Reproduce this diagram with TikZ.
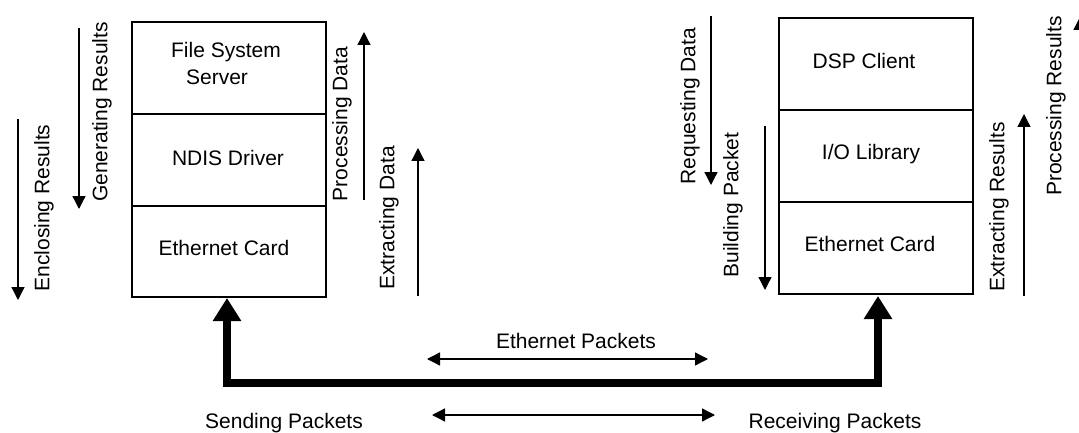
\documentclass[tikz,border=0pt]{standalone}
\usepackage{fontspec}
\setmainfont{Liberation Sans}
\usetikzlibrary{arrows.meta}
\begin{document}
\begin{tikzpicture}[x=1pt,y=-1pt,
  layer/.style={draw,line width=1.5pt},
  lbl/.style={inner sep=0pt,font=\fontsize{21}{25}\selectfont},
  vlbl/.style={lbl,rotate=90},
  flow/.style={line width=1.3pt,-{Triangle[width=13pt,length=13pt]}},
  both/.style={line width=1.3pt,{Triangle[width=13pt,length=13pt]}-{Triangle[width=13pt,length=13pt]}},
  link/.style={line width=7.5pt,{Triangle[width=27pt,length=23pt]}-{Triangle[width=27pt,length=23pt]}}]
\useasboundingbox (0,0) rectangle (1079,433);
% left stack
\draw[layer] (132,22) rectangle (326,114);
\draw[layer] (132,114) rectangle (326,206);
\draw[layer] (132,206) rectangle (326,297);
\node[lbl,anchor=base] (fs1) at (226,58) {File System};
\node[lbl,anchor=base] (fs2) at (217,85) {Server};
\node[lbl,anchor=base] (ndis) at (228,165) {NDIS Driver};
\node[lbl,anchor=base] (ethL) at (224,255) {Ethernet Card};
% right stack
\draw[layer] (779,18) rectangle (973,110);
\draw[layer] (779,110) rectangle (973,202);
\draw[layer] (779,202) rectangle (973,294);
\node[lbl,anchor=base] (dsp) at (864,69) {DSP Client};
\node[lbl,anchor=base] (io) at (871,160) {I/O Library};
\node[lbl,anchor=base] (ethR) at (870,251) {Ethernet Card};
% vertical labels
\node[vlbl] (encl) at (44,208) {Enclosing Results};
\node[vlbl] (gen) at (102,112) {Generating Results};
\node[vlbl] (procD) at (342,124) {Processing Data};
\node[vlbl] (extD) at (389,218) {Extracting Data};
\node[vlbl] (req) at (690,106) {Requesting Data};
\node[vlbl] (build) at (733,205) {Building Packet};
\node[vlbl] (extR) at (999,207) {Extracting Results};
\node[vlbl] (procR) at (1056,106) {Processing Results};
% flow arrows
\coordinate (a1) at (18,119);   \coordinate (b1) at (18,300);
\coordinate (a2) at (79,28);    \coordinate (b2) at (79,209);
\coordinate (a3) at (364,200);  \coordinate (b3) at (364,32);
\coordinate (a4) at (418,296);  \coordinate (b4) at (418,148);
\coordinate (a5) at (711,16);   \coordinate (b5) at (711,185);
\coordinate (a6) at (765,126);  \coordinate (b6) at (765,290);
\coordinate (a7) at (1024,296); \coordinate (b7) at (1024,114);
\coordinate (a8) at (1080,200); \coordinate (b8) at (1080,17);
\draw[flow] (a1) -- (b1);
\draw[flow] (a2) -- (b2);
\draw[flow] (a3) -- (b3);
\draw[flow] (a4) -- (b4);
\draw[flow] (a5) -- (b5);
\draw[flow] (a6) -- (b6);
\draw[flow] (a7) -- (b7);
\draw[flow] (a8) -- (b8);
% network link
\coordinate (tipL) at (227,298);
\coordinate (tipR) at (878,296);
\coordinate (c1) at (227,383);
\coordinate (c2) at (878,383);
\draw[link] (tipL) -- (c1) -- (c2) -- (tipR);
% packet arrows and labels
\node[lbl,anchor=base] (ethP) at (576,348) {Ethernet Packets};
\coordinate (e1) at (427,359); \coordinate (e2) at (708,359);
\draw[both] (e1) -- (e2);
\coordinate (f1) at (432,415); \coordinate (f2) at (715,415);
\draw[both] (f1) -- (f2);
\node[lbl,anchor=base] (send) at (284,428) {Sending Packets};
\node[lbl,anchor=base] (recv) at (835,428) {Receiving Packets};
\end{tikzpicture}
\end{document}
